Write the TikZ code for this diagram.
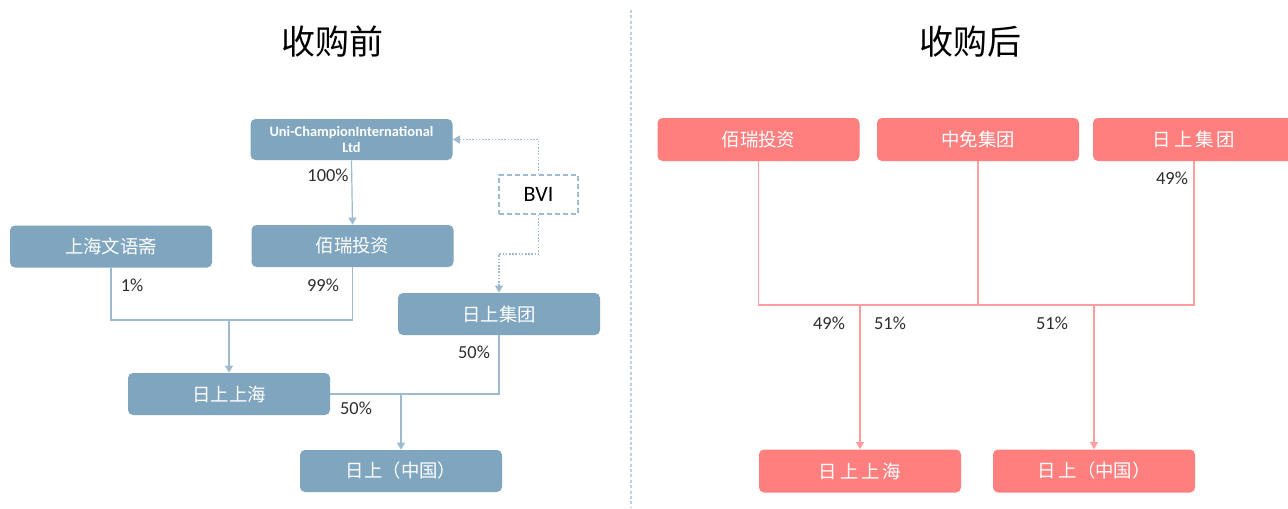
\documentclass[tikz,border=0pt]{standalone}
\usepackage{fontspec}
\setmainfont{Carlito}
\newfontfamily\cjk{Noto Sans CJK SC}
\usetikzlibrary{arrows.meta}
\definecolor{bluefill}{HTML}{7FA5BF}
\definecolor{blueline}{HTML}{9DBAD0}
\definecolor{pinkfill}{HTML}{FF7F7F}
\definecolor{pinkline}{HTML}{FF9E9E}
\definecolor{divcol}{HTML}{BCD0E0}
\definecolor{labcol}{HTML}{2E2E2E}
\tikzset{
  box/.style={rounded corners=2.5pt, minimum width=101pt, minimum height=21pt, inner sep=0pt, text=white, font=\cjk\fontsize{9.2}{11}\selectfont},
  bluebox/.style={box, fill=bluefill},
  pinkbox/.style={box, fill=pinkfill, minimum height=21.5pt},
  bline/.style={draw=blueline, line width=0.6pt},
  barr/.style={bline, -{Triangle[width=4pt,length=3.5pt]}},
  bdot/.style={draw=blueline, line width=0.6pt, dash pattern=on 0.8pt off 0.8pt},
  bdotarr/.style={bdot, -{Triangle[width=4pt,length=3.5pt]}},
  pline/.style={draw=pinkline, line width=0.6pt},
  parr/.style={pline, -{Triangle[width=4pt,length=3.5pt]}},
  pct/.style={text=labcol, font=\fontsize{9.2}{11}\selectfont, inner sep=0pt},
  ttl/.style={font=\cjk\fontsize{17}{20}\selectfont, text=black, inner sep=0pt},
  x=0.5pt, y=-0.5pt
}
\begin{document}
\begin{tikzpicture}
\useasboundingbox (0,0) rectangle (1288,508);
\clip (0,0) rectangle (1288,508);
\fill[white] (0,0) rectangle (1288,508);
% divider
\draw[divcol, line width=0.6pt, dash pattern=on 1.5pt off 1.2pt] (631,10) -- (631,508);
% titles
\node[ttl] (t1) at (332,42) {收购前};
\node[ttl] (t2) at (970,42) {收购后};
% left nodes
\node[bluebox, minimum height=20.5pt, font=\bfseries\fontsize{7.2}{9}\selectfont, align=center] (uni) at (351.5,139.5) {Uni-ChampionInternational\\[-1pt]Ltd};
\node[bluebox] (wyz) at (111,246.5) {上海文语斋};
\node[bluebox] (br) at (352.5,246) {佰瑞投资};
\node[bluebox] (rsjt) at (499,314) {日上集团};
\node[bluebox] (rssh) at (229,394) {日上上海};
\node[bluebox] (rszg) at (401,471) {日上（中国）};
\node[draw=blueline, line width=0.8pt, dash pattern=on 2.5pt off 1.5pt, minimum width=39.5pt, minimum height=19.5pt, inner sep=0pt, font=\fontsize{11}{13}\selectfont, text=black] (bvi) at (538.5,194.5) {BVI};
% left connectors
\draw[barr] (uni.south) -- (br.north);
\draw[bdotarr] (bvi.north) |- (uni.east);
\coordinate (b1) at (bvi.south |- 0,254);
\draw[bdotarr] (bvi.south) -- (b1) -| (rsjt.north);
\coordinate (j1) at (rssh.north |- 0,320);
\draw[bline] (wyz.south) |- (j1) -| (br.south);
\draw[barr] (j1) -- (rssh.north);
\coordinate (j2) at (rszg.north |- rssh.east);
\draw[bline] (rsjt.south) |- (rssh.east);
\draw[barr] (j2) -- (rszg.north);
% left labels
\node[pct] (l100) at (328,175) {100\%};
\node[pct] (l1) at (132,285) {1\%};
\node[pct] (l99) at (323,285) {99\%};
\node[pct] (l50a) at (474,352) {50\%};
\node[pct] (l50b) at (356,408) {50\%};
% right nodes
\node[pinkbox] (pbr) at (758.5,139.5) {佰瑞投资};
\node[pinkbox] (zm) at (978,139.5) {中免集团};
\node[pinkbox] (prsjt) at (1194,139.5) {日\hspace{1.5pt}上\hspace{1.5pt}集\hspace{1.5pt}团};
\node[pinkbox] (prssh) at (860,471) {日\hspace{1.5pt}上\hspace{1.5pt}上\hspace{1.5pt}海};
\node[pinkbox] (prszg) at (1094,471) {日\hspace{1.5pt}上（中国）};
% right connectors
\coordinate (k) at (zm.south |- 0,305);
\draw[pline] (pbr.south) |- (k) -| (prsjt.south);
\draw[pline] (zm.south) -- (k);
\coordinate (k1) at (prssh.north |- k);
\coordinate (k2) at (prszg.north |- k);
\draw[parr] (k1) -- (prssh.north);
\draw[parr] (k2) -- (prszg.north);
% right labels
\node[pct] (r49a) at (1172,178) {49\%};
\node[pct] (r49b) at (829,323) {49\%};
\node[pct] (r51a) at (890,323) {51\%};
\node[pct] (r51b) at (1052,323) {51\%};
\end{tikzpicture}
\end{document}
